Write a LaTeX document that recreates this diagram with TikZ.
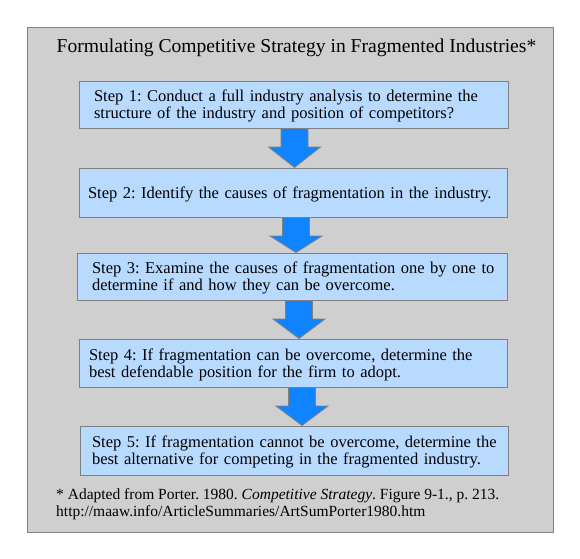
\documentclass[tikz,border=0pt]{standalone}
\usepackage{fontspec}
\setmainfont{Liberation Serif}
\usetikzlibrary{calc}
\frenchspacing
\hbadness=10000 \hfuzz=50pt
\definecolor{panelgray}{RGB}{207,207,207}
\definecolor{edgegray}{RGB}{128,128,128}
\definecolor{boxblue}{RGB}{184,218,255}
\definecolor{arrowblue}{RGB}{16,132,255}
\tikzset{
  stepbox/.style={draw=edgegray, line width=1pt, fill=boxblue, align=left,
    inner ysep=0pt, font=\fontsize{16.5}{17}\selectfont},
  twoline/.style={text height=6pt, text depth=12pt},
  oneline/.style={text height=11.5pt, text depth=0.5pt},
  fatarr/.style={draw=edgegray, line width=0.8pt, fill=arrowblue, line join=miter}
}
\newcommand\fatarrow[3]{%
  \draw[fatarr] let \p1=(#1.south), \p2=(#2.north) in
    (#3pt-13.5pt,\y1) -- (#3pt+13.5pt,\y1) -- (#3pt+13.5pt,\y1-18.5pt)
    -- (#3pt+26pt,\y1-18.5pt) -- (#3pt,\y2) -- (#3pt-26pt,\y1-18.5pt)
    -- (#3pt-13.5pt,\y1-18.5pt) -- cycle;}
\begin{document}
\begin{tikzpicture}[x=1pt,y=-1pt]
\useasboundingbox (0,0) rectangle (580,558);
\node[draw=edgegray, line width=1pt, fill=panelgray, minimum width=526pt, minimum height=505pt, inner sep=0pt] (panel) at (290,279.5) {};
\node[anchor=base, font=\fontsize{19.6}{22}\selectfont, inner sep=0pt] (title) at (296.5,52) {Formulating Competitive Strategy in Fragmented Industries*};
\node[stepbox, twoline, minimum width=429pt, minimum height=47pt, inner xsep=15pt, text width=399pt] (s1) at (293.5,104.5)
  {\mbox{Step 1: Conduct a full industry analysis to determine the}\\ \mbox{structure of the industry and position of competitors?}};
\node[stepbox, oneline, minimum width=428pt, minimum height=49pt, inner xsep=9pt, text width=410pt] (s2) at (293,192.5)
  {\mbox{Step 2: Identify the causes of fragmentation in the industry.}};
\node[stepbox, twoline, minimum width=430pt, minimum height=47pt, inner xsep=15pt, text width=400pt] (s3) at (292,276.5)
  {\mbox{Step 3: Examine the causes of fragmentation one by one to}\\ \mbox{determine if and how they can be overcome.}};
\node[stepbox, twoline, minimum width=428pt, minimum height=48pt, inner xsep=10pt, text width=408pt] (s4) at (293,363)
  {\mbox{Step 4: If fragmentation can be overcome, determine the}\\ \mbox{best defendable position for the firm to adopt.}};
\node[stepbox, twoline, minimum width=428pt, minimum height=49pt, inner xsep=12pt, text width=404pt] (s5) at (294,450.5)
  {\mbox{Step 5: If fragmentation cannot be overcome, determine the}\\ \mbox{best alternative for competing in the fragmented industry.}};
\fatarrow{s1}{s2}{294.5}
\fatarrow{s2}{s3}{296}
\fatarrow{s3}{s4}{299}
\fatarrow{s4}{s5}{302}
\node[anchor=base west, align=left, inner sep=0pt, font=\fontsize{15.5}{17}\selectfont] (note) at (56,516)
  {* Adapted from Porter. 1980. \textit{Competitive Strategy}. Figure 9-1., p. 213.\\ http://maaw.info/ArticleSummaries/ArtSumPorter1980.htm};
\end{tikzpicture}
\end{document}
